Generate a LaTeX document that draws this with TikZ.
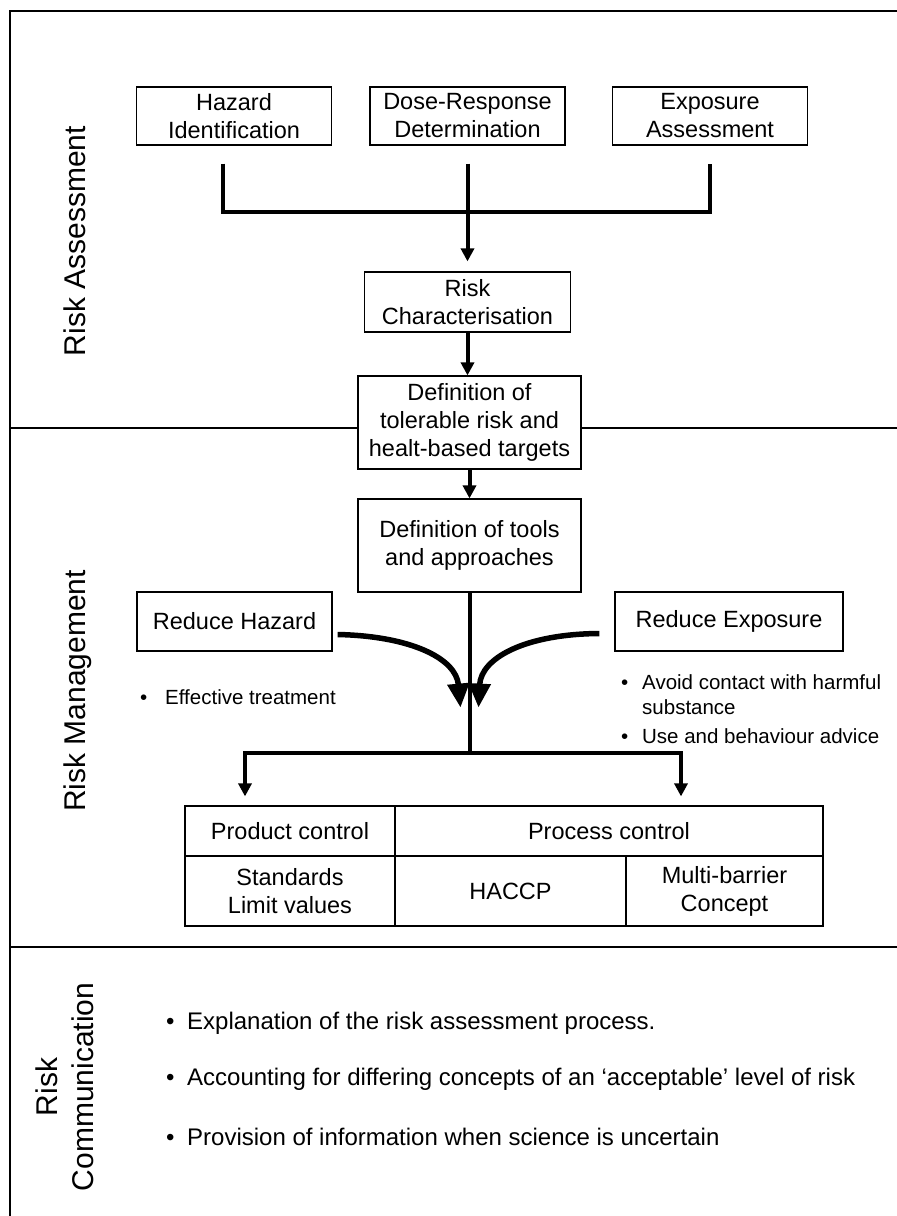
\documentclass[tikz,border=0pt]{standalone}
\usepackage{fontspec}
\setmainfont{Liberation Sans}
\usetikzlibrary{arrows.meta}

\newcommand{\dotitem}[1][21pt]{\makebox[#1][l]{\textbullet}}

\begin{document}
\begin{tikzpicture}[x=1pt, y=-1pt,
  box/.style={draw, line width=1.2pt, fill=white, align=center, inner sep=0pt,
    font=\fontsize{23.5}{28}\selectfont},
  bar/.style={line width=4pt},
  flow/.style={line width=4pt, -{Triangle[length=13pt,width=13pt]}},
  curvearrow/.style={line width=5.5pt, -{Triangle[length=24pt,width=21pt]}},
  lane/.style={rotate=90, anchor=base, inner sep=0pt, font=\fontsize{30}{36}\selectfont},
  note/.style={anchor=west, align=left, inner sep=0pt, font=\fontsize{20.5}{25}\selectfont},
  listitem/.style={anchor=west, inner sep=0pt, font=\fontsize{24}{28}\selectfont}]
  \useasboundingbox (0,0) rectangle (897,1216);

  % Frame and lane separators (draw FIRST, boxes cover them)
  \draw[line width=1.6pt] (897,11) -- (10,11) -- (10,1216);
  \draw[line width=1.2pt] (10,428) -- (897,428);
  \draw[line width=1.2pt] (10,947) -- (897,947);

  % Lane titles
  \node[lane] (assess) at (85,241) {Risk Assessment};
  \node[lane] (manage) at (85,691) {Risk Management};
  \node[lane, anchor=center, align=center] (comm) at (65,1087) {Risk\\Communication};

  % Assessment steps
  \node[box, minimum width=195pt, minimum height=58pt] (haz) at (234,116) {Hazard\\Identification};
  \node[box, minimum width=195pt, minimum height=58pt] (dose) at (467.5,116) {Dose-Response\\Determination};
  \node[box, minimum width=195pt, minimum height=58pt] (expo) at (710,116) {Exposure\\Assessment};
  \node[box, minimum width=206pt, minimum height=60pt] (char) at (467.5,302) {Risk\\Characterisation};

  % Targets and tools
  \node[box, minimum width=223pt, minimum height=93pt] (tol) at (469.5,422.5) {Definition of\\tolerable risk and\\healt-based targets};
  \node[box, minimum width=223pt, minimum height=93pt] (tools) at (469.5,545.5) {Definition of tools\\and approaches};

  % Two ways to reduce risk
  \node[box, minimum width=195pt, minimum height=59pt] (rhaz) at (234.5,621.5) {Reduce Hazard};
  \node[box, minimum width=228pt, minimum height=59pt] (rexp) at (729,621.5) {Reduce Exposure};

  \node[note] (treat) at (140,697) {\dotitem[25pt]Effective treatment};
  \node[note] (avoid) at (621,694.5) {\dotitem Avoid contact with harmful\\\hspace*{21pt}substance};
  \node[note] (advice) at (621,736) {\dotitem Use and behaviour advice};

  % Control table
  \node[box, minimum width=210pt, minimum height=50pt] (prod) at (290,831) {Product control};
  \node[box, minimum width=428pt, minimum height=50pt] (proc) at (609,831) {Process control};
  \node[box, minimum width=210pt, minimum height=70pt] (std) at (290,891) {Standards\\Limit values};
  \node[box, minimum width=231pt, minimum height=70pt] (haccp) at (510.5,891) {HACCP};
  \node[box, minimum width=197pt, minimum height=70pt] (multi) at (724.5,891) {Multi-barrier\\Concept};

  % Communication points
  \node[listitem] (explain) at (166,1023) {\dotitem Explanation of the risk assessment process.};
  \node[listitem] (accept) at (166,1079) {\dotitem Accounting for differing concepts of an ‘acceptable’ level of risk};
  \node[listitem] (uncert) at (166,1137) {\dotitem Provision of information when science is uncertain};

  % Connectors
  \draw[bar] ([shift={(-11,18)}]haz.south) -- ++(0,48) -| ([shift={(0,18)}]expo.south);
  \draw[flow, shorten >=10pt] ([shift={(0,18)}]dose.south) -- (char.north);
  \draw[flow] (char.south) -- (char.south |- tol.north);
  \draw[flow] (tol) -- (tools);

  \coordinate (split) at ([shift={(0,160)}]tools.south);
  \coordinate (meetl) at ([shift={(-9,115)}]tools.south);
  \coordinate (meetr) at ([shift={(9,115)}]tools.south);
  \draw[bar] (tools.south) -- (split);
  \draw[flow] (split) -| ([shift={(-45,-9)}]prod.north);
  \draw[flow] (split) -| ([shift={(72,-9)}]proc.north);

  \draw[curvearrow] ([shift={(5,13)}]rhaz.east) .. controls (410,636) and (456,658) .. (meetl);
  \draw[curvearrow] ([shift={(-15,12)}]rexp.west) .. controls (525,634) and (481,658) .. (meetr);

\end{tikzpicture}
\end{document}
